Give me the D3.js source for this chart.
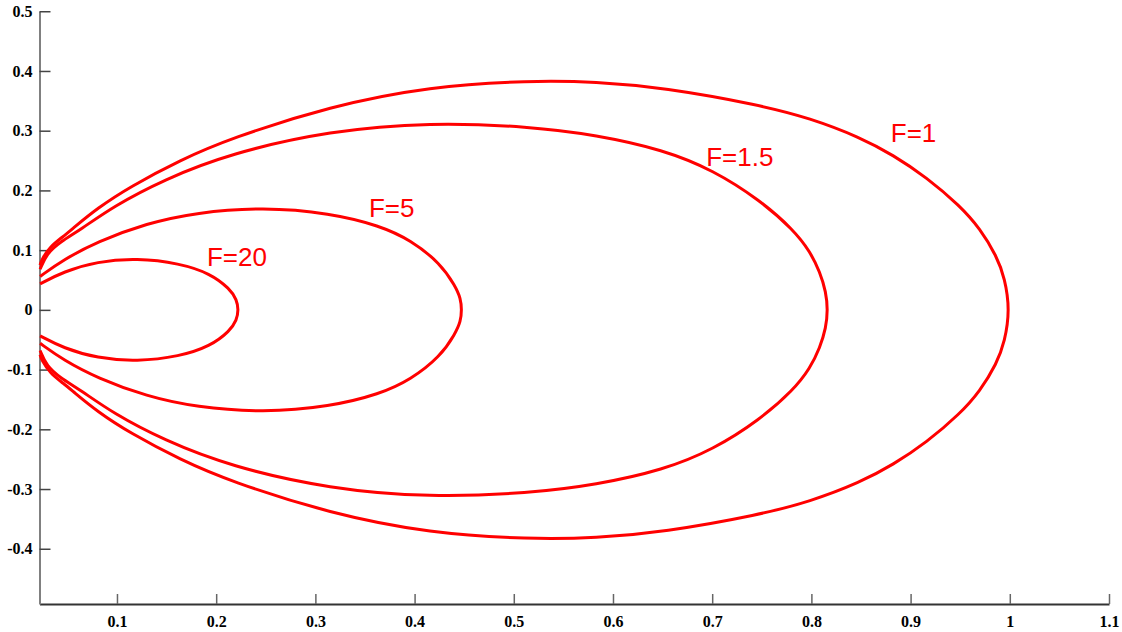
<!DOCTYPE html>
<html>
<head>
<meta charset="utf-8">
<script src="https://cdn.jsdelivr.net/npm/d3@7"></script>
<style>
  html, body { margin: 0; padding: 0; background: #fff; }
  svg { display: block; }
</style>
</head>
<body>
<script>
// ---------- data ----------
const seriesNames = ["F=1", "F=1.5", "F=5", "F=20"];

const f1Upper = [[0.0225,0.075],[0.024,0.084],[0.0326,0.106],[0.046,0.123],[0.056,0.137],[0.080,0.170],[0.113,0.206],[0.164,0.251],[0.214,0.287],[0.315,0.341],[0.4155,0.374],[0.516,0.384],[0.583,0.382],[0.651,0.372],[0.748,0.343],[0.7986,0.321],[0.849,0.289],[0.8826,0.259],[0.916,0.222],[0.9498,0.174],[0.970,0.136],[0.9868,0.090],[0.995,0.053],[1.0,0]];
const f1Lower = [[0.995,-0.053],[0.9868,-0.090],[0.970,-0.136],[0.9498,-0.174],[0.916,-0.222],[0.8826,-0.259],[0.849,-0.289],[0.7986,-0.321],[0.748,-0.343],[0.651,-0.372],[0.583,-0.382],[0.516,-0.384],[0.4155,-0.374],[0.315,-0.341],[0.214,-0.287],[0.164,-0.251],[0.113,-0.206],[0.080,-0.170],[0.056,-0.137],[0.046,-0.123],[0.0326,-0.106],[0.024,-0.084],[0.0225,-0.075]];

const f15Upper = [[0.0225,0.068],[0.029,0.094],[0.043,0.114],[0.063,0.134],[0.096,0.173],[0.147,0.218],[0.214,0.262],[0.315,0.300],[0.4155,0.314],[0.516,0.307],[0.583,0.293],[0.651,0.268],[0.701,0.234],[0.748,0.184],[0.782,0.134],[0.7986,0.098],[0.8087,0.063],[0.8147,0.030],[0.8165,0]];
const f15Lower = [[0.8147,-0.030],[0.8087,-0.063],[0.7986,-0.098],[0.782,-0.134],[0.748,-0.184],[0.701,-0.234],[0.651,-0.268],[0.583,-0.293],[0.516,-0.307],[0.4155,-0.314],[0.315,-0.300],[0.214,-0.262],[0.147,-0.218],[0.096,-0.173],[0.063,-0.134],[0.043,-0.114],[0.029,-0.094],[0.0225,-0.068]];

const f5Upper = [[0.0225,0.056],[0.046,0.084],[0.080,0.114],[0.130,0.145],[0.180,0.163],[0.247,0.172],[0.315,0.162],[0.365,0.141],[0.396,0.117],[0.426,0.078],[0.441,0.040],[0.4465,0.019],[0.4475,0]];
const f5Lower = [[0.4465,-0.019],[0.441,-0.040],[0.426,-0.078],[0.396,-0.117],[0.365,-0.141],[0.315,-0.162],[0.247,-0.172],[0.180,-0.163],[0.130,-0.145],[0.080,-0.114],[0.046,-0.084],[0.0225,-0.056]];

const f20Upper = [[0.0225,0.0435],[0.046,0.064],[0.080,0.081],[0.120,0.0865],[0.163,0.078],[0.194,0.061],[0.214,0.035],[0.2207,0.017],[0.2225,0]];
const f20Lower = [[0.2207,-0.017],[0.214,-0.035],[0.194,-0.061],[0.163,-0.078],[0.120,-0.0865],[0.080,-0.081],[0.046,-0.064],[0.0225,-0.0435]];

const labelPos = [[0.880,0.2807],[0.694,0.2415],[0.354,0.156],[0.1907,0.0736]];

const xTicks = [0.1,0.2,0.3,0.4,0.5,0.6,0.7,0.8,0.9,1.0,1.1];
const yTicks = [-0.4,-0.3,-0.2,-0.1,0,0.1,0.2,0.3,0.4,0.5];
const xDomain = [0.0219, 1.1];
const yDomain = [-0.4925, 0.5];

// ---------- drawing ----------
const W = 1122, H = 632;
const svg = d3.select("body").append("svg").attr("width", W).attr("height", H);

const x = d3.scaleLinear().domain(xDomain).range([39.5, 1109]);
const y = d3.scaleLinear().domain(yDomain).range([604, 11.25]);

const fmt = d => String(+d.toFixed(1));

const gx = svg.append("g").attr("transform", `translate(0,${y(yDomain[0])})`)
  .call(d3.axisBottom(x).tickValues(xTicks).tickFormat(fmt).tickSizeInner(-10).tickSizeOuter(0).tickPadding(12));
const gy = svg.append("g").attr("transform", `translate(${x(xDomain[0])},0)`)
  .call(d3.axisLeft(y).tickValues(yTicks).tickFormat(fmt).tickSizeInner(-11).tickSizeOuter(0).tickPadding(7));

gx.select(".domain").attr("stroke", "#333").attr("stroke-width", 2);
gy.select(".domain").attr("stroke", "#808080").attr("stroke-width", 2);
gx.selectAll(".tick line").attr("stroke", "#666").attr("stroke-width", 1.5);
gy.selectAll(".tick line").attr("stroke", "#444").attr("stroke-width", 1.5);
[gx, gy].forEach(g => g.selectAll(".tick text")
  .attr("font-family", "'Liberation Serif', 'Times New Roman', serif")
  .attr("font-weight", "bold").attr("font-size", 16).attr("fill", "#000"));

const curves = [
  f1Upper.concat(f1Lower),
  f15Upper.concat(f15Lower),
  f5Upper.concat(f5Lower),
  f20Upper.concat(f20Lower)
];

const line = d3.line().x(d => x(d[0])).y(d => y(d[1])).curve(d3.curveBasis);

svg.append("g").selectAll("path").data(curves).join("path")
  .attr("d", line).attr("fill", "none").attr("stroke", "#ff0000").attr("stroke-width", 3)
  .attr("stroke-linejoin", "round");

svg.append("g").selectAll("text").data(seriesNames).join("text")
  .attr("x", (d, i) => x(labelPos[i][0]))
  .attr("y", (d, i) => y(labelPos[i][1]))
  .attr("font-family", "'Liberation Sans', Arial, sans-serif")
  .attr("font-size", 26).attr("fill", "#ff0000")
  .text(d => d);
</script>
</body>
</html>
